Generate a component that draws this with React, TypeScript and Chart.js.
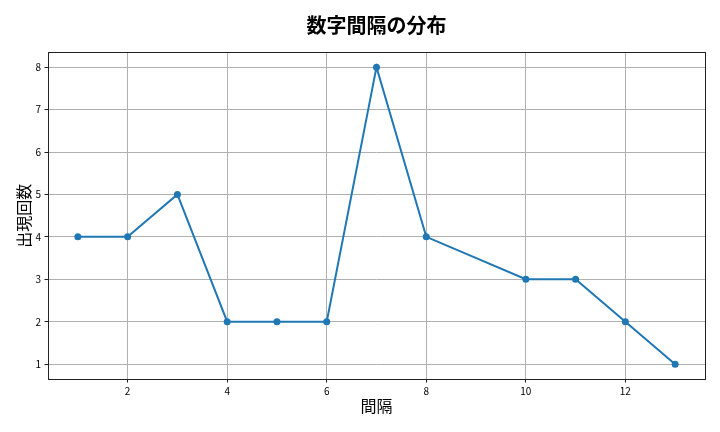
import React, { useEffect, useRef } from "react";
import { Chart, registerables } from "chart.js";

Chart.register(...registerables);

const intervals = [1, 2, 3, 4, 5, 6, 7, 8, 10, 11, 12, 13];
const counts = [4, 4, 5, 2, 2, 2, 8, 4, 3, 3, 2, 1];
const xTicks = [2, 4, 6, 8, 10, 12];
const yTicks = [1, 2, 3, 4, 5, 6, 7, 8];

const titleText = "数字間隔の分布";
const xTitle = "間隔";
const yTitle = "出現回数";

const FONT = "'Noto Sans CJK JP', 'Noto Sans', sans-serif";

const framePlugin = {
  id: "frame",
  afterDatasetsDraw(chart: any) {
    const { ctx, chartArea } = chart;
    ctx.save();
    ctx.strokeStyle = "#222";
    ctx.lineWidth = 1;
    const l = Math.round(chartArea.left) + 0.5;
    const t = Math.round(chartArea.top) + 0.5;
    const r = Math.round(chartArea.right) + 0.5;
    const b = Math.round(chartArea.bottom) + 0.5;
    ctx.strokeRect(l, t, r - l, b - t);
    ctx.restore();
  },
};

export default function App() {
  const ref = useRef<HTMLCanvasElement | null>(null);
  useEffect(() => {
    if (!ref.current) return;
    const chart = new Chart(ref.current, {
      type: "line",
      data: {
        datasets: [
          {
            data: intervals.map((x, i) => ({ x, y: counts[i] })),
            borderColor: "#1f77b4",
            backgroundColor: "#1f77b4",
            borderWidth: 2,
            pointRadius: 3.5,
            pointBackgroundColor: "#1f77b4",
            pointBorderWidth: 0,
            tension: 0,
            fill: false,
          },
        ],
      },
      options: {
        animation: false,
        responsive: false,
        devicePixelRatio: 1,
        layout: { padding: { left: 0, right: 15, top: 0, bottom: 0 } },
        plugins: {
          legend: { display: false },
          tooltip: { enabled: false },
          title: {
            display: true,
            text: titleText,
            fullSize: false,
            color: "#000",
            font: { family: FONT, size: 20, weight: "bold", lineHeight: 1.2 },
            padding: { top: 13.5, bottom: 14.8 },
          },
        },
        scales: {
          x: {
            type: "linear",
            min: 0.4,
            max: 13.6,
            afterBuildTicks: (s: any) => {
              s.ticks = xTicks.map((v) => ({ value: v }));
            },
            afterFit: (s: any) => {
              s.height = 53;
            },
            grid: {
              color: "#b0b0b0",
              lineWidth: 1,
              tickColor: "#222",
              tickLength: 3.5,
            },
            border: { display: false },
            ticks: {
              color: "#000",
              padding: 3,
              maxRotation: 0,
              font: { family: FONT, size: 10 },
            },
            title: {
              display: true,
              text: xTitle,
              color: "#000",
              font: { family: FONT, size: 16, lineHeight: 1.2 },
              padding: { top: 0, bottom: 16 },
            },
          },
          y: {
            type: "linear",
            min: 0.65,
            max: 8.35,
            afterBuildTicks: (s: any) => {
              s.ticks = yTicks.map((v) => ({ value: v }));
            },
            afterFit: (s: any) => {
              s.width = 48;
            },
            grid: {
              color: "#b0b0b0",
              lineWidth: 1,
              tickColor: "#222",
              tickLength: 3.5,
            },
            border: { display: false },
            ticks: {
              color: "#000",
              padding: 3.5,
              font: { family: FONT, size: 10 },
            },
            title: {
              display: true,
              text: yTitle,
              color: "#000",
              font: { family: FONT, size: 16, lineHeight: 1.2 },
              padding: { top: 14.4, bottom: 0 },
            },
          },
        },
      },
      plugins: [framePlugin],
    } as any);
    return () => chart.destroy();
  }, []);
  return (
    <div style={{ position: "absolute", left: 0, top: 0, width: 720, height: 432, background: "#fff" }}>
      <canvas ref={ref} width={720} height={432} />
    </div>
  );
}
